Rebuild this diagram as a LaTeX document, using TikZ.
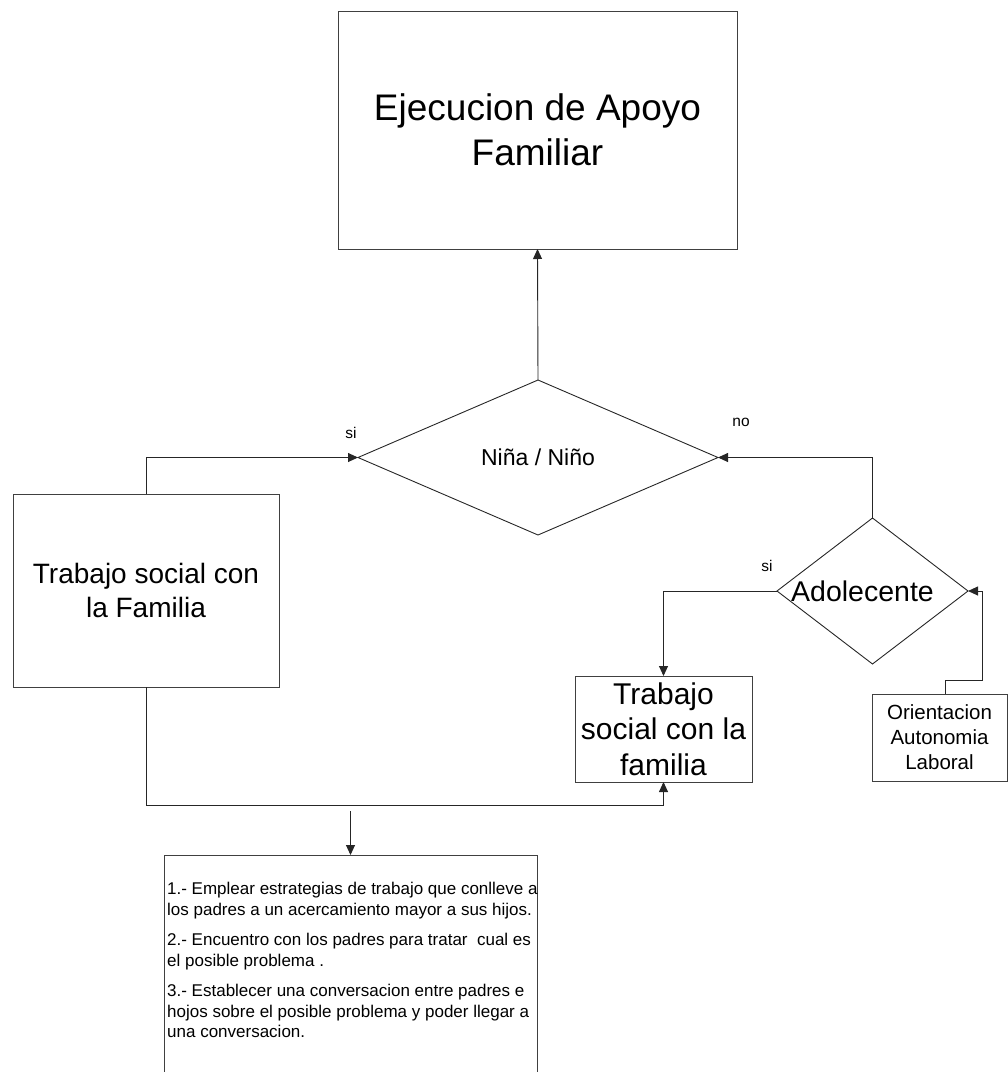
\documentclass[tikz,border=0pt]{standalone}
\usepackage{fontspec}
\setmainfont{Liberation Sans}
\usetikzlibrary{arrows.meta,shapes.geometric}
\begin{document}
\begin{tikzpicture}[x=1pt,y=-1pt,
  box/.style={draw=black!75, line width=1pt, rectangle, inner sep=0pt, outer sep=0pt, align=center},
  dec/.style={draw=black!85, line width=0.9pt, diamond, inner sep=0pt, outer sep=0pt, align=center},
  conn/.style={draw=black!85, line width=0.9pt},
  arr/.style={conn, -{Triangle[length=10pt,width=9pt]}},
  lbl/.style={font=\fontsize{15.5}{18}\selectfont, inner sep=0pt}
]
\useasboundingbox (0,0) rectangle (1008,1072);
\clip (0,0) rectangle (1008,1072);

\node[box, minimum width=399pt, minimum height=238pt, font=\fontsize{37}{45}\selectfont] (top) at (537.5,130) {Ejecucion de Apoyo\\Familiar};
\node[dec, shape aspect=2.32, minimum width=360pt, minimum height=155pt, font=\fontsize{23}{27}\selectfont] (nino) at (538,457.5) {\makebox[0pt]{Niña / Niño}};
\node[box, minimum width=266pt, minimum height=193pt, font=\fontsize{28}{34}\selectfont] (tsl) at (146,590.5) {Trabajo social con\\la Familia};
\node[dec, shape aspect=1.31, minimum width=191pt, minimum height=146pt, font=\fontsize{28.5}{34}\selectfont] (adol) at (872.5,591) {\makebox[0pt]{Adolecente\hspace*{20pt}}};
\node[box, minimum width=177pt, minimum height=106pt, font=\fontsize{30}{35.5}\selectfont] (tsr) at (663.5,729) {Trabajo\\social con la\\familia};
\node[box, minimum width=135pt, minimum height=87pt, font=\fontsize{20.5}{25}\selectfont] (ori) at (939.5,737.5) {Orientacion\\Autonomia\\Laboral};
\node[box, minimum width=373pt, minimum height=240pt, anchor=north] (notes) at (350.5,855) {};
\node[anchor=north west, inner sep=0pt, align=left, font=\fontsize{17}{20.7}\selectfont] (notestext) at (167,882) {1.- Emplear estrategias de trabajo que conlleve a\\
los padres a un acercamiento mayor a sus hijos.\\[9.5pt]
2.- Encuentro con los padres para tratar\ \ cual es\\
el posible problema .\\[9.5pt]
3.- Establecer una conversacion entre padres e\\
hojos sobre el posible problema y poder llegar a\\
una conversacion.};

\node[lbl] (si1) at (351,433) {si};
\node[lbl] (no) at (741,422) {no};
\node[lbl] (si2) at (767,566) {si};

\coordinate (oj) at (982,680);
\coordinate (jb) at (146,805);
\coordinate (ns) at (350.5,811);

\draw[arr] (nino.north) -- (top.south);
\draw[arr] (tsl.north) |- (nino.west);
\draw[arr] (adol.north) |- (nino.east);
\draw[arr] (adol.west) -| (tsr.north);
\draw[arr] ([xshift=5.5pt]ori.north) |- (oj) |- (adol.east);
\draw[arr] (tsl.south) -- (jb) -| (tsr.south);
\draw[arr] (ns) -- (notes.north);
\end{tikzpicture}
\end{document}
